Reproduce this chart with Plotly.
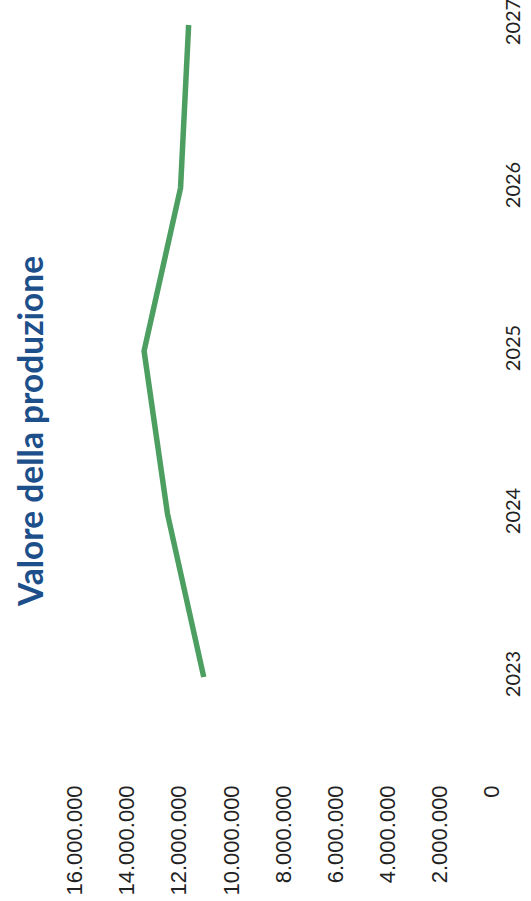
import plotly.graph_objects as go

# Production value by year
years = [2023, 2024, 2025, 2026, 2027]
valore_produzione = [11060000, 12450000, 13350000, 11950000, 11640000]

value_ticks = [0, 2000000, 4000000, 6000000, 8000000, 10000000, 12000000, 14000000, 16000000]
title_text = "Valore della produzione"

W, H = 531, 901
m_l, m_r, m_t, m_b = 75, 39, 0, 131
plot_h = H - m_t - m_b
px_per_year = 163.0
y_top = 2027 + 25 / px_per_year
y_bottom = y_top - plot_h / px_per_year

fig = go.Figure()
fig.add_trace(go.Scatter(
    x=valore_produzione,
    y=years,
    mode="lines",
    line=dict(color="#4c9f60", width=5.5),
    hoverinfo="skip",
    showlegend=False,
))

fig.update_layout(
    width=W,
    height=H,
    margin=dict(l=m_l, r=m_r, t=m_t, b=m_b, autoexpand=False),
    paper_bgcolor="white",
    plot_bgcolor="white",
    separators=",.",
    xaxis=dict(
        range=[16000000, 0],
        tickvals=value_ticks,
        tickformat=",.0f",
        tickangle=-90,
        showgrid=False,
        zeroline=False,
        showline=False,
        ticks="",
        automargin=False,
        ticklabelstandoff=10,
        ticklabeloverflow="allow",
        tickfont=dict(family="Liberation Sans, Arial, sans-serif", size=22, color="#222222"),
    ),
    yaxis=dict(
        range=[y_bottom, y_top],
        tickvals=years,
        ticktext=[str(y) for y in years],
        side="right",
        tickangle=-90,
        showgrid=False,
        zeroline=False,
        showline=False,
        ticks="",
        automargin=False,
        ticklabelstandoff=7,
        ticklabeloverflow="allow",
        tickfont=dict(family="Lato, Open Sans, sans-serif", size=20, color="#222222"),
    ),
    annotations=[dict(
        text="<b>" + title_text + "</b>",
        textangle=-90,
        xref="paper", yref="paper",
        x=(30 - m_l) / (W - m_l - m_r),
        y=1 - (432 - m_t) / plot_h,
        xanchor="center", yanchor="middle",
        showarrow=False,
        font=dict(family="Lato, Open Sans, sans-serif", size=33.5, color="#1d4f8b"),
    )],
)

fig.write_html("out.html")
